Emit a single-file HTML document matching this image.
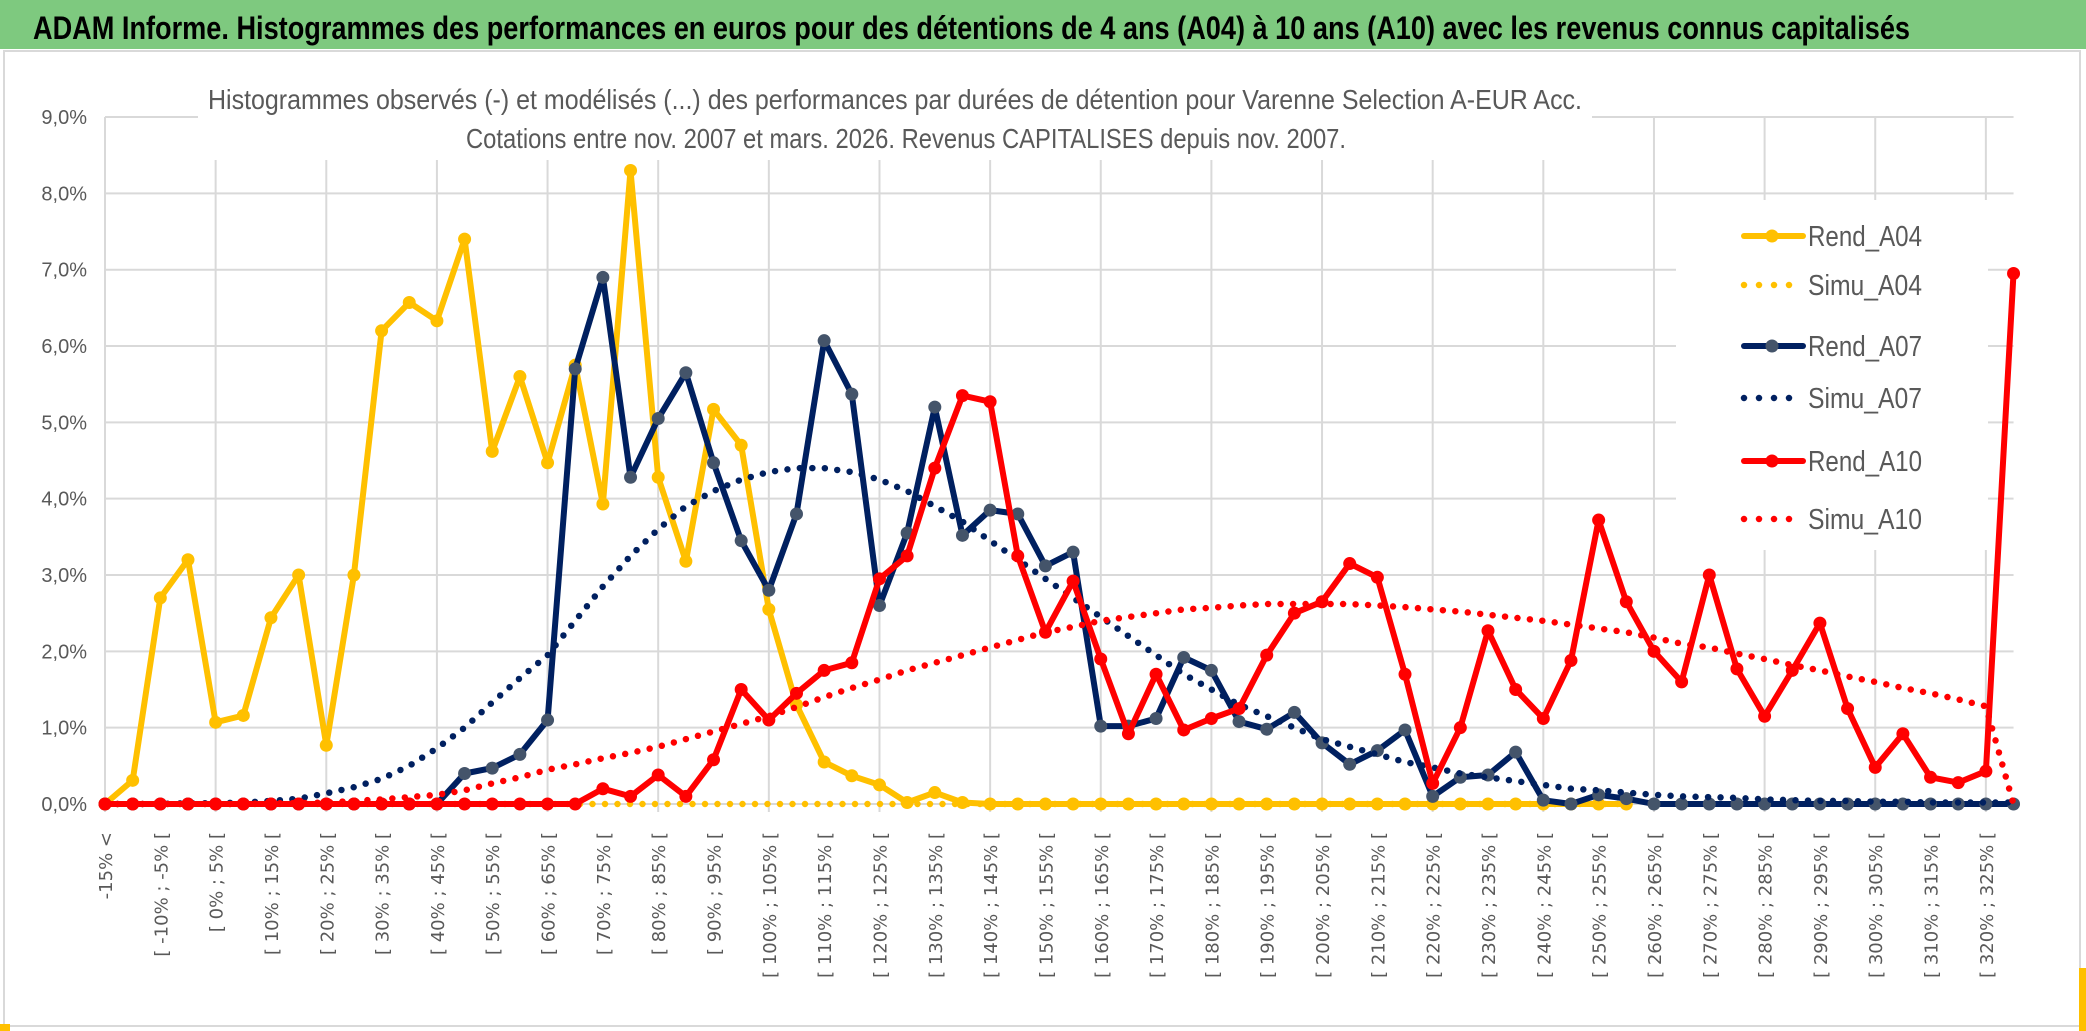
<!DOCTYPE html>
<html><head><meta charset="utf-8"><style>
html,body{margin:0;padding:0;background:#fff;}
svg{display:block;font-family:"Liberation Sans",sans-serif;}
</style></head><body>
<svg id="chart" width="2086" height="1031" viewBox="0 0 2086 1031" xmlns="http://www.w3.org/2000/svg">
<rect x="0" y="0" width="2086" height="1031" fill="#fff"/>
<rect x="0" y="0" width="2086" height="49" fill="#7ec97f"/>
<text x="33" y="39" font-size="32" font-weight="bold" fill="#000" textLength="1877" lengthAdjust="spacingAndGlyphs">ADAM Informe. Histogrammes des performances en euros pour des détentions de 4 ans (A04) à 10 ans (A10) avec les revenus connus capitalisés</text>
<rect x="4" y="51" width="2076" height="975" fill="none" stroke="#d9d9d9" stroke-width="2"/>
<rect x="2079" y="968" width="7" height="63" fill="#ffc000"/>
<rect x="0" y="1024" width="10" height="7" fill="#ffc000"/>
<g id="grid"></g>
<rect x="198" y="78" width="1394" height="82" fill="#fff"/>
<text x="208" y="109" font-size="28" fill="#595959" textLength="1374" lengthAdjust="spacingAndGlyphs">Histogrammes observés (-) et modélisés (...) des performances par durées de détention pour Varenne Selection A-EUR Acc.</text>
<text x="906" y="148" font-size="28" fill="#595959" text-anchor="middle" textLength="880" lengthAdjust="spacingAndGlyphs">Cotations entre nov. 2007 et mars. 2026. Revenus CAPITALISES depuis nov. 2007.</text>
<g id="series"></g>
<g id="legend"></g>
</svg>
<script>
const categories = (function(){const a=["-15% <"];for(let k=1;k<70;k++){const lo=(k-4)*5;a.push("[ "+lo+"% ; "+(lo+5)+"% [");}return a;})();
const yTicks = [0,1,2,3,4,5,6,7,8,9];
const yTickLabels = ["0,0%","1,0%","2,0%","3,0%","4,0%","5,0%","6,0%","7,0%","8,0%","9,0%"];
const rendA04 = [0,0.31,2.7,3.2,1.07,1.16,2.44,3.0,0.77,3.0,6.2,6.57,6.33,7.4,4.62,5.6,4.47,5.75,3.93,8.3,4.28,3.18,5.17,4.7,2.55,1.3,0.55,0.37,0.25,0.02,0.15,0.02,0,0,0,0,0,0,0,0,0,0,0,0,0,0,0,0,0,0,0,0,0,0,0,0];
const simuA04 = [0,0,0,0,0,0,0,0,0,0,0,0,0,0,0,0,0,0,0,0,0,0,0,0,0,0,0,0,0,0,0,0,0,0,0,0,0,0,0,0,0,0,0,0,0,0,0,0,0,0,0,0,0,0,0,0];
const rendA07 = [0,0,0,0,0,0,0,0,0,0,0,0,0,0.4,0.47,0.65,1.1,5.7,6.9,4.28,5.05,5.65,4.47,3.45,2.8,3.8,6.07,5.37,2.6,3.55,5.2,3.52,3.85,3.8,3.12,3.3,1.02,1.02,1.12,1.92,1.75,1.08,0.98,1.2,0.8,0.52,0.7,0.97,0.1,0.35,0.38,0.68,0.05,0,0.12,0.07,0,0,0,0,0,0,0,0,0,0,0,0,0,0];
const simuA07 = [0,0,0,0.01,0.01,0.02,0.04,0.07,0.14,0.22,0.33,0.5,0.73,1.0,1.33,1.65,1.95,2.4,2.85,3.25,3.6,3.9,4.1,4.25,4.35,4.4,4.4,4.35,4.25,4.1,3.9,3.7,3.45,3.2,2.95,2.7,2.45,2.2,1.95,1.7,1.5,1.3,1.15,1.0,0.85,0.75,0.65,0.55,0.48,0.4,0.35,0.3,0.25,0.2,0.18,0.15,0.12,0.1,0.09,0.08,0.06,0.05,0.04,0.04,0.03,0.03,0.02,0.02,0.02,0.02];
const rendA10 = [0,0,0,0,0,0,0,0,0,0,0,0,0,0,0,0,0,0,0.2,0.1,0.38,0.1,0.58,1.5,1.1,1.45,1.75,1.85,2.95,3.25,4.4,5.35,5.27,3.25,2.25,2.92,1.9,0.92,1.7,0.97,1.12,1.25,1.95,2.5,2.65,3.15,2.97,1.7,0.27,1.0,2.27,1.5,1.12,1.88,3.72,2.65,2.0,1.6,3.0,1.77,1.15,1.75,2.37,1.25,0.48,0.92,0.35,0.28,0.43,6.95];
const simuA10 = [0,0,0,0,0,0,0.01,0.01,0.02,0.04,0.06,0.09,0.12,0.18,0.27,0.35,0.45,0.52,0.6,0.67,0.75,0.85,0.95,1.05,1.15,1.27,1.4,1.52,1.63,1.75,1.85,1.95,2.05,2.15,2.25,2.32,2.4,2.45,2.5,2.55,2.57,2.6,2.62,2.62,2.62,2.62,2.6,2.58,2.55,2.52,2.48,2.44,2.4,2.35,2.3,2.25,2.18,2.1,2.05,1.97,1.9,1.82,1.75,1.67,1.6,1.52,1.45,1.37,1.28,0];
const seriesNames = ["Rend_A04","Simu_A04","Rend_A07","Simu_A07","Rend_A10","Simu_A10"];

const NS="http://www.w3.org/2000/svg";
const X0=105, STEP=27.66, Y0=804, YPX=76.33;
function xs(i){return X0+i*STEP;}
function ys(v){return Y0-v*YPX;}
function mk(tag,attrs,parent){const e=document.createElementNS(NS,tag);for(const k in attrs)e.setAttribute(k,attrs[k]);parent.appendChild(e);return e;}
const grid=document.getElementById('grid');
const xEnd=xs(categories.length-1);
yTicks.forEach((t,j)=>{
  const l=mk('line',{x1:X0,x2:xEnd,y1:ys(t),y2:ys(t),stroke:'#d9d9d9','stroke-width':2},grid);
  
  
  const tx=mk('text',{x:87,y:ys(t)+7,'font-size':20,fill:'#595959','text-anchor':'end'},grid);
  
  
  tx.textContent=yTickLabels[j];
});
categories.forEach((c,i)=>{
  if(i%4===0){
    const l=mk('line',{x1:xs(i),x2:xs(i),y1:ys(9),y2:Y0+8,stroke:'#d9d9d9','stroke-width':2},grid);
    
    
  }
  if(i%2===0){
    const tx=mk('text',{x:0,y:0,'font-size':18,fill:'#595959','text-anchor':'end','font-family':'"DejaVu Sans",sans-serif',transform:'translate('+(xs(i)+7)+',832) rotate(-90)'},grid);
    
    
    tx.textContent=c;
  }
});
const ser=document.getElementById('series');
function pts(arr){return arr.map((v,i)=>xs(i).toFixed(1)+','+ys(v).toFixed(1)).join(' ');}
function solid(arr,color,mcolor,name){
  const g=mk('g',{},ser);
  
  
  mk('polyline',{points:pts(arr),fill:'none',stroke:color,'stroke-width':6,'stroke-linejoin':'round'},g);
  arr.forEach((v,i)=>{
    const c=mk('circle',{cx:xs(i),cy:ys(v),r:6.5,fill:mcolor},g);
    
    
  });
}
function dotted(arr,color,name){
  const p=mk('polyline',{points:pts(arr),fill:'none',stroke:color,'stroke-width':6.5,'stroke-linecap':'round','stroke-dasharray':'0 12.5'},ser);
  
  
}
solid(rendA04,'#ffc000','#ffc000','rend-a04-line');
dotted(simuA04,'#ffc000','simu-a04-line');
solid(rendA07,'#002060','#44546a','rend-a07-line');
dotted(simuA07,'#002060','simu-a07-line');
solid(rendA10,'#ff0000','#ff0000','rend-a10-line');
dotted(simuA10,'#ff0000','simu-a10-line');

const lg=document.getElementById('legend');
const bg=mk('rect',{x:1676,y:200,width:312,height:350,fill:'#fff'},lg);


const lcolors=['#ffc000','#ffc000','#002060','#002060','#ff0000','#ff0000'];
const lmark=['#ffc000',null,'#44546a',null,'#ff0000',null];
const ly=[236,285,346,398,461,519];
seriesNames.forEach((n,k)=>{
  const g=mk('g',{},lg);
  
  
  if(lmark[k]){
    mk('line',{x1:1744,x2:1803,y1:ly[k],y2:ly[k],stroke:lcolors[k],'stroke-width':6,'stroke-linecap':'round'},g);
    mk('circle',{cx:1772,cy:ly[k],r:6.5,fill:lmark[k]},g);
  } else {
    mk('line',{x1:1744,x2:1795,y1:ly[k],y2:ly[k],stroke:lcolors[k],'stroke-width':6.5,'stroke-linecap':'round','stroke-dasharray':'0 15'},g);
  }
  const t=mk('text',{x:1808,y:ly[k]+10,'font-size':29,fill:'#595959',textLength:114,lengthAdjust:'spacingAndGlyphs'},g);
  t.textContent=n;
});
</script>
</body></html>
